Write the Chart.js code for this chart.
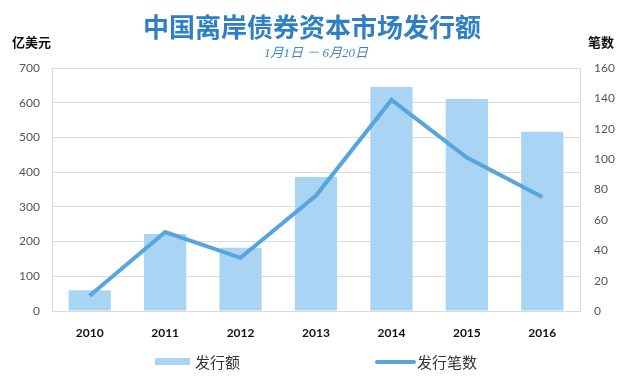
<!DOCTYPE html>
<html>
<head>
<meta charset="utf-8">
<script src="https://cdn.jsdelivr.net/npm/chart.js@4.4.1/dist/chart.umd.min.js"></script>
<style>
  html, body { margin: 0; padding: 0; background: #fff; }
  #wrap { width: 617px; height: 378px; }
</style>
</head>
<body>
<div id="wrap"><canvas id="chart" width="617" height="378"></canvas></div>
<script>
// données
const years = ['2010', '2011', '2012', '2013', '2014', '2015', '2016'];
const amount = [60, 222, 182, 386, 645, 611, 516];   // 亿美元
const deals = [10, 52, 35, 76, 139, 101, 75];       // 笔数

const titleText = '中国离岸债券资本市场发行额';
const subText = '1月1日 － 6月20日';
const cjk = '"Noto Sans CJK SC", "Noto Sans", sans-serif';
const latin = 'Lato, "Noto Sans CJK SC", sans-serif';

// titre, sous-titre, titres des axes et légende
const decor = {
  id: 'decor',
  afterDraw(chart) {
    const c = chart.ctx;
    c.save();
    c.textBaseline = 'middle';
    c.textAlign = 'center';
    c.fillStyle = '#2f7fc6';
    c.font = 'bold 26px ' + cjk;
    c.fillText(titleText, 312, 27);
    c.fillStyle = '#3b86c8';
    c.font = 'italic 13px "Liberation Serif", ' + cjk;
    c.fillText(subText, 316, 54);

    c.fillStyle = '#111';
    c.font = 'bold 13px ' + cjk;
    c.textAlign = 'left';
    c.fillText('亿美元', 12, 42);
    c.fillText('笔数', 588, 42);

    // légende : barres puis ligne
    const bar = chart.data.datasets.find(d => d.type === 'bar');
    const line = chart.data.datasets.find(d => d.type === 'line');
    c.font = '15px ' + cjk;
    c.fillStyle = bar.backgroundColor;
    c.fillRect(155, 358, 35, 7);
    c.fillStyle = '#333';
    c.fillText(bar.label, 195, 362);
    c.strokeStyle = line.borderColor;
    c.lineWidth = 4;
    c.lineCap = 'round';
    c.beginPath();
    c.moveTo(377, 362);
    c.lineTo(414, 362);
    c.stroke();
    c.fillStyle = '#333';
    c.fillText(line.label, 417, 362);
    c.restore();
  }
};

new Chart(document.getElementById('chart'), {
  data: {
    labels: years,
    datasets: [
      {
        type: 'line',
        label: '发行笔数',
        data: deals,
        yAxisID: 'y1',
        borderColor: '#56a5dc',
        borderWidth: 4,
        pointRadius: 0,
        tension: 0,
        order: 0
      },
      {
        type: 'bar',
        label: '发行额',
        data: amount,
        yAxisID: 'y',
        backgroundColor: '#a9d4f4',
        categoryPercentage: 0.56,
        barPercentage: 1,
        order: 1
      }
    ]
  },
  options: {
    responsive: false,
    animation: false,
    layout: { padding: { top: 68, bottom: 37, left: 0, right: 0 } },
    plugins: {
      legend: { display: false },
      tooltip: { enabled: false }
    },
    scales: {
      x: {
        grid: { display: false },
        border: { color: '#d9d9d9' },
        ticks: { color: '#111', padding: 7, font: { family: latin, size: 12, weight: 'bold' } },
        afterFit(s) { s.height = 30; }
      },
      y: {
        position: 'left',
        min: 0, max: 700,
        ticks: { stepSize: 100, color: '#555', padding: 12, font: { family: latin, size: 12 } },
        grid: { color: '#dcdcdc', drawTicks: false },
        border: { color: '#d9d9d9' },
        afterFit(s) { s.width = 52; }
      },
      y1: {
        position: 'right',
        min: 0, max: 160,
        ticks: { stepSize: 20, color: '#555', padding: 14, font: { family: latin, size: 12 } },
        grid: { display: false, drawTicks: false },
        border: { color: '#d9d9d9' },
        afterFit(s) { s.width = 37; }
      }
    }
  },
  plugins: [decor]
});
</script>
</body>
</html>
